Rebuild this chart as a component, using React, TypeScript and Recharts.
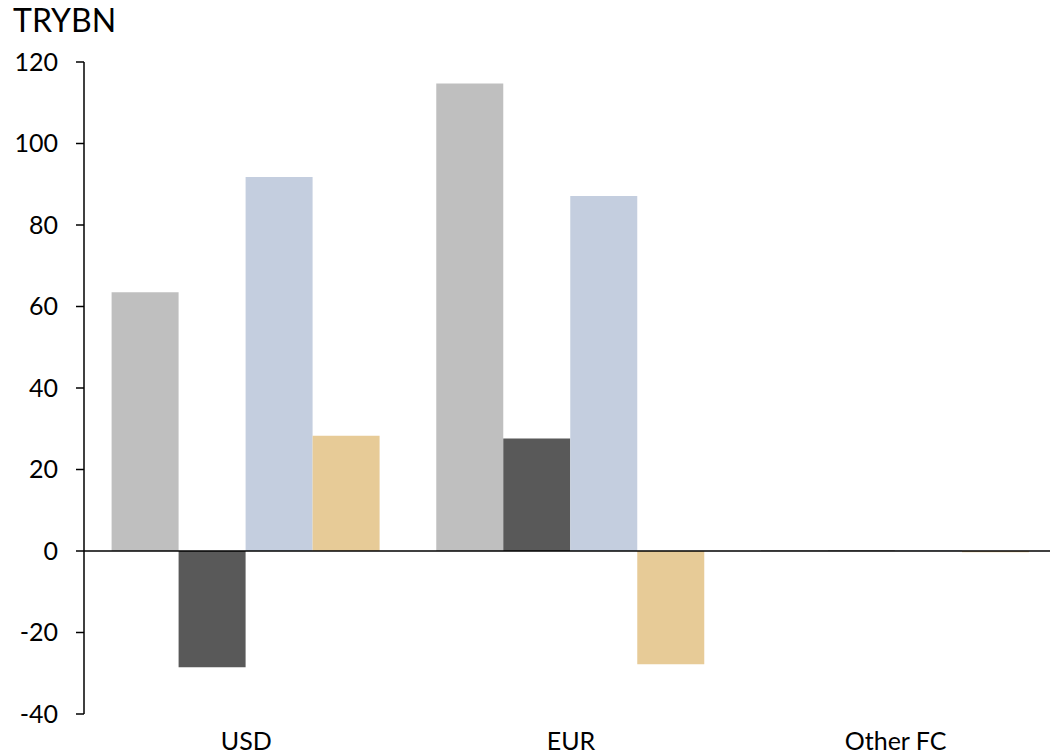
import { Bar, BarChart, ReferenceLine, XAxis, YAxis } from "recharts";

const categories = ["USD", "EUR", "Other FC"];
const seriesA = [63.5, 114.7, 0.2];
const seriesB = [-28.5, 27.6, 0.1];
const seriesC = [91.8, 87.1, 0.2];
const seriesD = [28.3, -27.8, -0.3];
const yTicks = [-40, -20, 0, 20, 40, 60, 80, 100, 120];

const data = categories.map((name, i) => ({
  name,
  a: seriesA[i],
  b: seriesB[i],
  c: seriesC[i],
  d: seriesD[i],
}));

const font = "Lato, 'Open Sans', sans-serif";

export default function App() {
  return (
    <div
      style={{
        position: "absolute",
        left: 0,
        top: 0,
        width: 1050,
        height: 756,
        overflow: "hidden",
        background: "#fff",
        fontFamily: font,
      }}
    >
      <div
        style={{
          position: "absolute",
          left: 13,
          top: 0,
          fontSize: 32,
          lineHeight: "normal",
          color: "#000",
        }}
      >
        TRYBN
      </div>
      <BarChart
        width={1058}
        height={756}
        data={data}
        margin={{ top: 62, right: 0, left: 0, bottom: 0 }}
        barCategoryGap="8.5%"
        barGap={0}
      >
        <XAxis
          dataKey="name"
          axisLine={false}
          tickLine={false}
          tickSize={0}
          tickMargin={18}
          height={42}
          tick={{ fill: "#000", fontSize: 25, fontFamily: font }}
        />
        <YAxis
          domain={[-40, 120]}
          ticks={yTicks}
          width={84}
          tickSize={8}
          tickMargin={18}
          axisLine={{ stroke: "#000", strokeWidth: 1.5 }}
          tickLine={{ stroke: "#000", strokeWidth: 1.5 }}
          tick={{ fill: "#000", fontSize: 25, fontFamily: font }}
          interval={0}
        />
        <Bar dataKey="a" fill="#BFBFBF" isAnimationActive={false} />
        <Bar dataKey="b" fill="#595959" isAnimationActive={false} />
        <Bar dataKey="c" fill="#C4CEDF" isAnimationActive={false} />
        <Bar dataKey="d" fill="#E7CB97" isAnimationActive={false} />
        <ReferenceLine y={0} stroke="#000" strokeWidth={1.5} />
      </BarChart>
    </div>
  );
}
